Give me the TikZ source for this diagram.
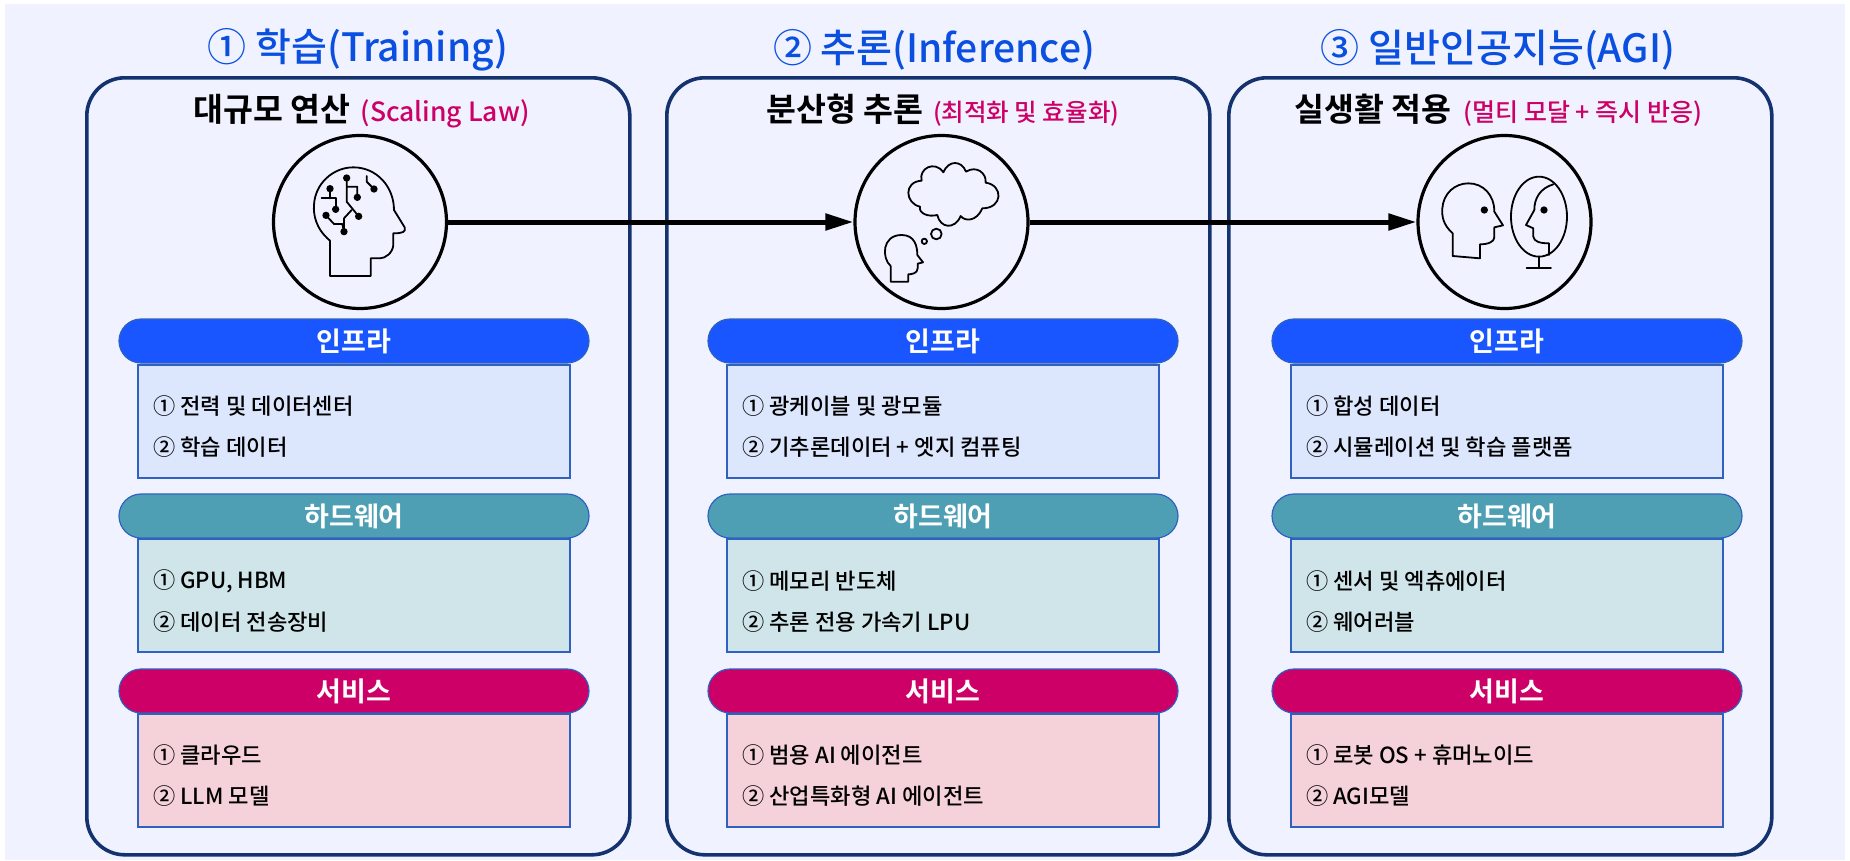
\documentclass[tikz,border=0pt]{standalone}
\usepackage{fontspec}
\usetikzlibrary{arrows.meta,shapes.misc}
\setmainfont{Noto Sans CJK KR Medium}[BoldFont=Noto Sans CJK KR Bold]
\definecolor{bgc}{HTML}{F0F3FF}
\definecolor{panelc}{HTML}{14326E}
\definecolor{edgec}{HTML}{2F62C0}
\definecolor{titlec}{HTML}{0A4FE0}
\definecolor{subc}{HTML}{CC0066}
\definecolor{pillA}{HTML}{1A56FF}
\definecolor{pillB}{HTML}{4F9FB4}
\definecolor{pillC}{HTML}{CC0066}
\definecolor{boxA}{HTML}{DCE6FC}
\definecolor{boxB}{HTML}{CFE5EA}
\definecolor{boxC}{HTML}{F5D1D9}
\tikzset{
 panelbox/.style={draw=panelc,line width=3.6pt,fill=bgc,rounded corners=38pt,minimum width=543pt,minimum height=777pt,inner sep=0pt,anchor=north west},
 pill/.style={draw=edgec,line width=1.2pt,rounded rectangle,minimum width=470pt,minimum height=44pt,inner sep=0pt,text=white,font=\fontsize{27}{27}\selectfont\bfseries},
 itembox/.style={draw=edgec,line width=1.5pt,minimum width=432pt,minimum height=113pt,inner sep=0pt},
 item/.style={anchor=west,inner sep=0pt,text=black,font=\fontsize{22.2}{23}\selectfont},
 bigtitle/.style={text=titlec,inner sep=0pt,font=\fontsize{39}{40}\selectfont},
 headtxt/.style={inner sep=0pt,anchor=base west,text=black},
 ring/.style={draw=black,line width=3.2pt,circle,minimum size=173pt,inner sep=0pt},
 flow/.style={draw=black,line width=5pt,-{Triangle[length=28pt,width=16pt]},shorten >=0pt},
 icon/.style={draw=black,line width=1.8pt,line join=round,line cap=round,fill=none},
 dot/.style={fill=black},
}
\newcommand{\column}[9]{%
 \node[panelbox] (#1p) at (#2,76) {};
 \begin{scope}[shift={(#9,0)}]
 \node[itembox,fill=boxA] (#1a) at (0,421.5) {};
 \node[itembox,fill=boxB] (#1b) at (0,595.5) {};
 \node[itembox,fill=boxC] (#1c) at (0,770.5) {};
 \node[pill,fill=pillA] (#1pa) at (0,341) {인프라};
 \node[pill,fill=pillB] (#1pb) at (0,516) {하드웨어};
 \node[pill,fill=pillC] (#1pc) at (0,691) {서비스};
 \node[item] (#1a1) at (-201,406) {#3};
 \node[item] (#1a2) at (-201,447) {#4};
 \node[item] (#1b1) at (-201,581) {#5};
 \node[item] (#1b2) at (-201,622) {#6};
 \node[item] (#1c1) at (-201,755) {#7};
 \node[item] (#1c2) at (-201,796) {#8};
 \end{scope}
}
\begin{document}
\begin{tikzpicture}[x=1pt,y=-1pt]
\useasboundingbox (0,0) rectangle (1850,860);
\fill[white] (0,0) rectangle (1850,860);
\fill[bgc] (5,4) rectangle (1845,860);
\column{l}{85}{① 전력 및 데이터센터}{② 학습 데이터}{① GPU, HBM}{② 데이터 전송장비}{① 클라우드}{② LLM 모델}{354}
\column{m}{665}{① 광케이블 및 광모듈}{② 기추론데이터 + 엣지 컴퓨팅}{① 메모리 반도체}{② 추론 전용 가속기 LPU}{① 범용 AI 에이전트}{② 산업특화형 AI 에이전트}{943}
\column{r}{1227}{① 합성 데이터}{② 시뮬레이션 및 학습 플랫폼}{① 센서 및 엑츄에이터}{② 웨어러블}{① 로봇 OS + 휴머노이드}{② AGI모델}{1507}
\node[bigtitle] (t1) at (358,50) {① 학습(Training)};
\node[bigtitle] (t2) at (934,50) {② 추론(Inference)};
\node[bigtitle] (t3) at (1498,50) {③ 일반인공지능(AGI)};
\node[headtxt] (h1) at (193.5,121) {\fontsize{32.5}{33}\selectfont\bfseries 대규모 연산\hspace{10pt}\textcolor{subc}{\fontsize{26.5}{27}\selectfont\mdseries (Scaling Law)}};
\node[headtxt] (h2) at (766,121) {\fontsize{32.5}{33}\selectfont\bfseries 분산형 추론\hspace{10pt}\textcolor{subc}{\fontsize{24.5}{26}\selectfont\mdseries (최적화 및 효율화)}};
\node[headtxt] (h3) at (1294.5,121) {\fontsize{32.5}{33}\selectfont\bfseries 실생활 적용\hspace{12pt}\textcolor{subc}{\fontsize{25}{26}\selectfont\mdseries (멀티 모달 + 즉시 반응)}};
\node[ring] (c1) at (360,222) {};
\node[ring] (c2) at (941.5,222) {};
\node[ring] (c3) at (1504.5,222) {};
\draw[flow] (c1) -- (c2);
\draw[flow] (c2) -- (c3);
% brain head
\begin{scope}[shift={(260,150)},x=.3333pt,y=-.3333pt]
\draw[icon] (210,378) -- (210,272) .. controls (165,235) and (160,190) .. (162,165)
 .. controls (165,100) and (220,52) .. (280,52) .. controls (350,52) and (402,110) .. (402,180)
 -- (434,232) .. controls (438,245) and (430,250) .. (400,250) -- (400,285) .. controls (398,310) and (375,325) .. (360,325)
 -- (332,325) -- (332,378) -- cycle;
\draw[icon] (210,116) -- (210,145) (185,145) -- (227,145) -- (227,178);
\draw[icon] (260,84) -- (260,155) -- (296,199) (260,110) -- (292,110) -- (292,142);
\draw[icon] (320,78) -- (320,95) -- (342,117);
\draw[icon] (198,196) -- (222,222) -- (247,222) -- (252,245) (252,245) -- (252,205) -- (275,180);
\foreach \px/\py in {210/116,227/178,260/84,292/142,342/117,198/196,296/199,252/245}
 \fill[dot] (\px,\py) circle[radius=11];
\end{scope}
% thought head
\begin{scope}[shift={(840,140)},x=.3333pt,y=-.3333pt]
\draw[icon] (245,122) .. controls (235,85) and (285,60) .. (310,97) .. controls (325,60) and (365,60) .. (378,95)
 .. controls (410,75) and (440,100) .. (437,128) .. controls (490,135) and (490,205) .. (427,205)
 .. controls (410,245) and (375,245) .. (362,228) .. controls (345,270) and (300,265) .. (292,225)
 .. controls (265,232) and (235,220) .. (240,200) .. controls (195,190) and (190,125) .. (245,122) -- cycle;
\draw[icon] (289,282) circle[radius=16];
\draw[icon] (253,304) circle[radius=8];
\draw[icon] (152,425) -- (152,378) .. controls (125,355) and (125,285) .. (185,285)
 .. controls (225,285) and (232,320) .. (232,345) -- (249,367) -- (233,371) -- (233,385)
 .. controls (233,400) and (215,403) .. (205,403) -- (205,425) -- cycle;
\end{scope}
% mirror head
\begin{scope}[shift={(1400,150)},x=.3333pt,y=-.3333pt]
\draw[icon] (158,318) -- (158,250) .. controls (130,225) and (125,200) .. (127,175)
 .. controls (130,130) and (165,100) .. (205,100) .. controls (250,100) and (283,135) .. (283,185)
 -- (309,226) -- (283,232) -- (283,262) .. controls (283,275) and (265,283) .. (240,283) -- (240,325) -- cycle;
\fill[dot] (253,180) circle[radius=11];
\draw[icon] (417,200) ellipse[x radius=84,y radius=120];
\draw[icon] (460,103) .. controls (420,115) and (403,145) .. (403,180) -- (378,225) -- (400,235) -- (400,260)
 .. controls (402,275) and (420,280) .. (447,280) -- (447,315);
\fill[dot] (432,180) circle[radius=11];
\draw[icon] (417,320) -- (417,355) (380,355) -- (453,355);
\end{scope}
\end{tikzpicture}
\end{document}
